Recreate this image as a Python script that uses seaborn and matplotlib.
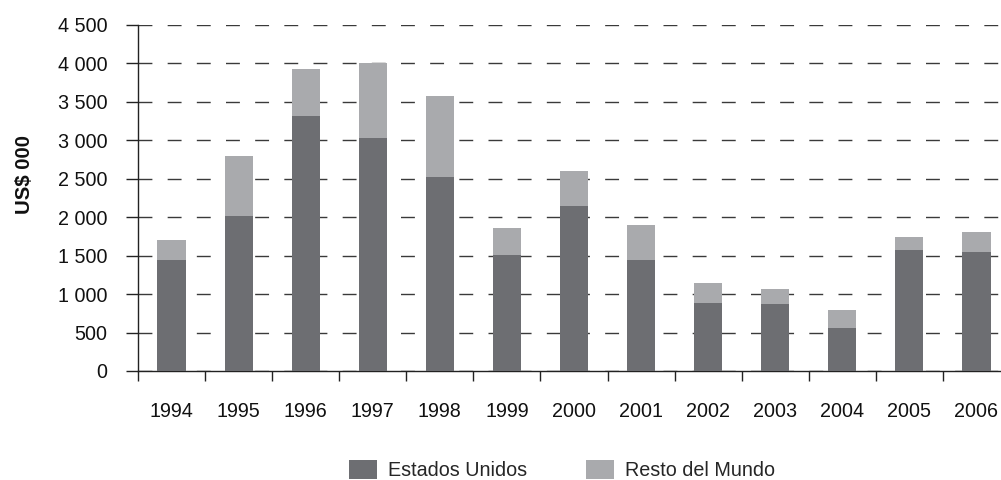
import numpy as np
import pandas as pd
import matplotlib
matplotlib.use("Agg")
import matplotlib.pyplot as plt
from matplotlib.patches import Patch
from matplotlib.ticker import FuncFormatter, FixedLocator
import seaborn as sns

# Exportaciones por destino (miles de US$)
years = ["1994", "1995", "1996", "1997", "1998", "1999", "2000",
         "2001", "2002", "2003", "2004", "2005", "2006"]
estados_unidos = [1450, 2020, 3310, 3030, 2520, 1510, 2150, 1450, 890, 870, 560, 1575, 1550]
resto_mundo = [260, 780, 620, 970, 1055, 350, 450, 450, 255, 195, 235, 170, 260]
yticks = [0, 500, 1000, 1500, 2000, 2500, 3000, 3500, 4000, 4500]

COL_US = "#6d6e72"
COL_RM = "#a9aaad"

sns.set_style("white")
plt.rcParams["font.family"] = ["Liberation Sans", "DejaVu Sans"]
FS = 14.2

df = pd.DataFrame({
    "year": years,
    "us": estados_unidos,
    "total": np.add(estados_unidos, resto_mundo),
})

fig = plt.figure(figsize=(10.01, 4.80), dpi=100)
ax = fig.add_axes([138 / 1001, 1 - 371 / 480, 872 / 1001, 346 / 480])

# stacked bars: total in light grey, US share drawn over it
sns.barplot(data=df, x="year", y="total", color=COL_RM, saturation=1,
            width=0.42, ax=ax, zorder=3)
sns.barplot(data=df, x="year", y="us", color=COL_US, saturation=1,
            width=0.42, ax=ax, zorder=4)
for p in ax.patches:
    p.set_edgecolor("none")

ax.set_xlim(-0.5, len(years) - 0.5)
ax.set_ylim(0, 4500)
ax.set_yticks(yticks)
ax.yaxis.set_major_formatter(FuncFormatter(lambda v, _: f"{int(v):,}".replace(",", " ")))

# horizontal dashed grid
ax.yaxis.grid(True, color="#3a3a3a", linewidth=1.0, linestyle=(0, (10, 11)), zorder=0)
ax.xaxis.grid(False)
ax.set_axisbelow(True)

for s in ("top", "right"):
    ax.spines[s].set_visible(False)
for s in ("left", "bottom"):
    ax.spines[s].set_color("#222222")
    ax.spines[s].set_linewidth(1.0)

# category boundary ticks on x, labels centred under bars
ax.xaxis.set_minor_locator(FixedLocator(np.arange(-0.5, len(years), 1.0)))
ax.tick_params(axis="x", which="minor", bottom=True, length=7, width=1,
               color="#222222", direction="out")
ax.tick_params(axis="x", which="major", bottom=True, length=0, pad=22,
               labelsize=FS, labelcolor="#111111")
ax.tick_params(axis="y", which="major", left=True, length=9, width=1, color="#222222",
               direction="out", pad=13, labelsize=FS, labelcolor="#111111")

ax.set_xlabel("")
ax.set_ylabel("")
fig.text(25 / 1001, 1 - 175 / 480, "US$ 000", rotation=90, ha="center", va="center",
         fontsize=FS + 0.5, fontweight="bold", color="#111111")

handles = [Patch(facecolor=COL_US, edgecolor="none", label="Estados Unidos"),
           Patch(facecolor=COL_RM, edgecolor="none", label="Resto del Mundo")]
fig.legend(handles=handles, loc="center", bbox_to_anchor=(562 / 1001, 1 - 470 / 480),
           ncol=2, frameon=False, fontsize=FS, handlelength=1.4, handleheight=1.1,
           handletextpad=0.55, columnspacing=3.0, borderpad=0)

fig.savefig("out.png", dpi=100)
